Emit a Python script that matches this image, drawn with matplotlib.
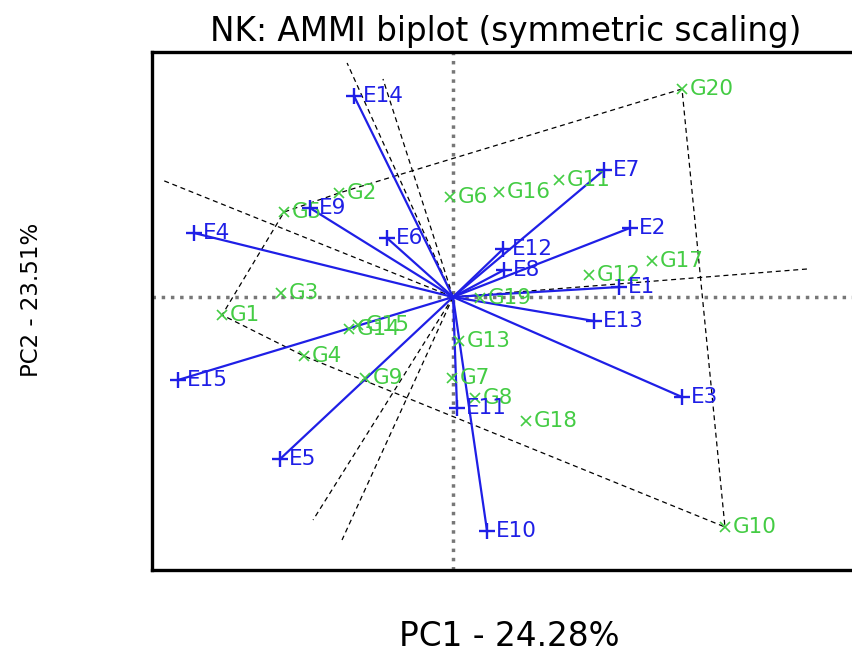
import numpy as np
import matplotlib
matplotlib.use("Agg")
import matplotlib.pyplot as plt

# environment scores (PC1, PC2)
env_names = ["E1", "E2", "E3", "E4", "E5", "E6", "E7", "E8", "E9", "E10",
             "E11", "E12", "E13", "E14", "E15"]
env_pc1 = [1.078, 1.149, 1.487, -1.682, -1.123, -0.429, 0.981, 0.331, -0.929, 0.221,
           0.026, 0.325, 0.916, -0.643, -1.786]
env_pc2 = [0.10, 0.69, -1.00, 0.64, -1.62, 0.59, 1.27, 0.27, 0.89, -2.34,
           -1.11, 0.48, -0.24, 2.01, -0.83]

# genotype scores (PC1, PC2)
gen_names = ["G1", "G2", "G3", "G4", "G5", "G6", "G7", "G8", "G9", "G10",
             "G11", "G12", "G13", "G14", "G15", "G16", "G17", "G18", "G19", "G20"]
gen_pc1 = [-1.500, -0.740, -1.117, -0.968, -1.097, -0.019, -0.006, 0.143, -0.571, 1.766,
           0.688, 0.883, 0.039, -0.675, -0.617, 0.299, 1.292, 0.474, 0.175, 1.487]
gen_pc2 = [-0.18, 1.04, 0.04, -0.59, 0.85, 1.00, -0.81, -1.01, -0.81, -2.30,
           1.17, 0.22, -0.44, -0.32, -0.28, 1.05, 0.36, -1.24, -0.01, 2.08]

# polygon (vertex genotypes) and sector boundary ends
hull_order = ["G20", "G2", "G5", "G1", "G4", "G10"]
ray_pc1 = [-0.688, -0.455, -1.890, -0.909, -0.721, 2.299]
ray_pc2 = [2.34, 2.18, 1.17, -2.23, -2.43, 0.28]

title = "NK: AMMI biplot (symmetric scaling)"
xlab = "PC1 - 24.28%"
ylab = "PC2 - 23.51%"

blue = "#1f1fe6"
green = "#44cc44"

fig = plt.figure(figsize=(8.53, 6.54), dpi=100)
ax = fig.add_axes([152 / 853, 84 / 654, 708 / 853, 518 / 654])
ax.set_xlim(-1.955, 2.643)
ax.set_ylim(-2.73, 2.45)
ax.set_xticks([])
ax.set_yticks([])
for s in ax.spines.values():
    s.set_linewidth(2.4)
    s.set_color("black")

# reference lines
ax.axhline(0, color="#777777", lw=2.5, ls=":", zorder=1)
ax.axvline(0, color="#777777", lw=2.5, ls=":", zorder=1)

# polygon
gx = dict(zip(gen_names, gen_pc1))
gy = dict(zip(gen_names, gen_pc2))
hx = [gx[g] for g in hull_order] + [gx[hull_order[0]]]
hy = [gy[g] for g in hull_order] + [gy[hull_order[0]]]
ax.plot(hx, hy, color="black", lw=0.9, ls=(0, (4, 3)), zorder=2)

# sector lines
for rx, ry in zip(ray_pc1, ray_pc2):
    ax.plot([0, rx], [0, ry], color="black", lw=0.9, ls=(0, (4, 3)), zorder=2)

# environment vectors
for x, y in zip(env_pc1, env_pc2):
    ax.plot([0, x], [0, y], color=blue, lw=1.6, zorder=3)

ax.plot(gen_pc1, gen_pc2, ls="none", marker="x", ms=7, mew=1.2, color=green, zorder=4)
ax.plot(env_pc1, env_pc2, ls="none", marker="+", ms=12, mew=1.7, color=blue, zorder=5)

for n, x, y in zip(gen_names, gen_pc1, gen_pc2):
    ax.annotate(n, (x, y), xytext=(5.5, 0), textcoords="offset points",
                ha="left", va="center", color=green, fontsize=15.5, zorder=4)
for n, x, y in zip(env_names, env_pc1, env_pc2):
    ax.annotate(n, (x, y), xytext=(6.5, 0), textcoords="offset points",
                ha="left", va="center", color=blue, fontsize=15.5, zorder=5)

fig.text(506 / 853, 1 - 31 / 654, title, ha="center", va="center", fontsize=23.5)
fig.text(509 / 853, 1 - 637 / 654, xlab, ha="center", va="center", fontsize=23.5)
fig.text(32 / 853, 1 - 300 / 654, ylab, ha="center", va="center", fontsize=16.5, rotation=90)

fig.savefig("out.png", dpi=100)
